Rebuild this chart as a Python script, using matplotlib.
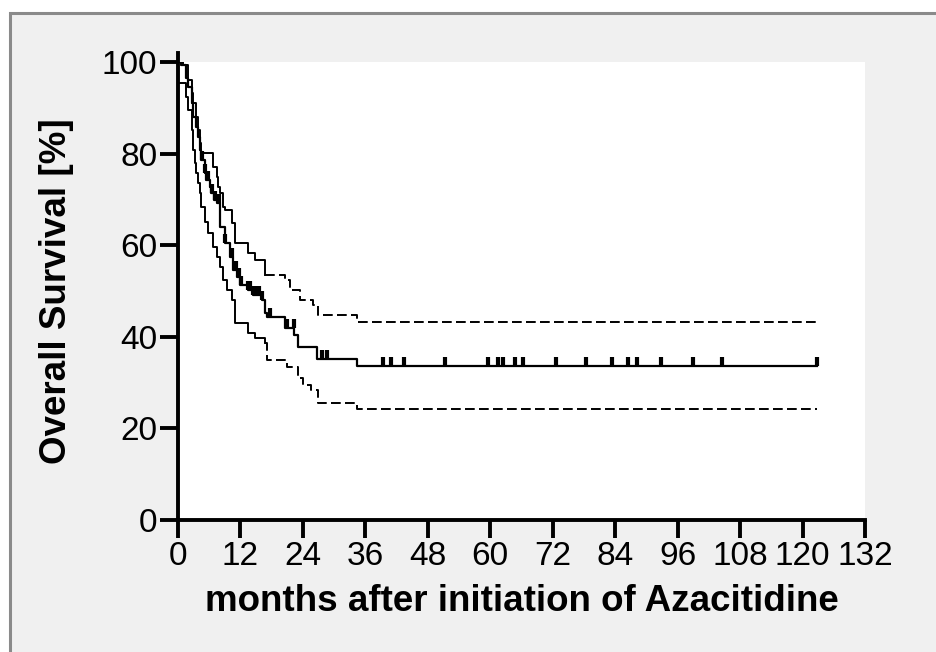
import numpy as np
import matplotlib

matplotlib.use("Agg")

import matplotlib.pyplot as plt
from matplotlib.patches import Rectangle

# Kaplan-Meier estimate (months, % surviving)
surv_months = [0, 0.6, 1.6, 1.9, 2.6, 2.9, 3.5, 3.8, 4.2, 4.5, 5.1, 5.4, 6.1, 6.4, 7.0, 7.4,
               8.0, 8.1, 9.0, 10.0, 10.6, 11.3, 11.9, 13.4, 14.4, 16.1, 16.7, 17.1,
               20.6, 22.3, 23.1, 26.7, 34.4, 122.8]
surv_pct = [100, 99.3, 96.5, 94.5, 91.0, 88.0, 85.8, 83.6, 80.8, 78.6, 75.8, 74.2, 72.7, 71.4, 69.9, 69.2,
            68.1, 64.0, 60.5, 57.4, 54.6, 53.1, 51.3, 50.2, 49.1, 48.0, 45.2, 44.3,
            41.9, 40.5, 37.8, 35.2, 33.6, 33.6]

# 95% confidence band
upper_months = [0, 1.0, 1.9, 2.6, 2.9, 3.5, 3.8, 4.2, 4.5, 6.7, 7.4, 7.7, 8.1, 8.6, 9.0, 10.3,
                11.0, 13.4, 14.8, 16.7, 20.6, 21.5, 23.4, 25.9, 26.9, 34.4, 122.8]
upper_pct = [100, 99.3, 96.1, 93.2, 91.0, 88.0, 85.2, 82.3, 80.1, 77.1, 74.9, 72.7, 71.4, 68.3, 67.7, 64.8,
             60.5, 58.3, 56.8, 53.5, 52.5, 50.2, 48.0, 46.9, 44.8, 43.2, 43.2]

lower_months = [0, 1.5, 1.9, 2.6, 2.9, 3.2, 3.5, 3.8, 4.2, 4.5, 5.2, 5.8, 6.7, 7.4, 8.1, 8.7,
                9.4, 10.4, 11.0, 13.4, 14.8, 16.7, 17.1, 21.0, 23.1, 24.0, 25.5, 26.9, 34.4, 122.8]
lower_pct = [95.4, 92.4, 89.5, 85.2, 80.8, 77.9, 75.8, 73.6, 71.4, 68.3, 65.1, 62.7, 59.6, 57.4, 55.2, 52.4,
             50.2, 48.0, 43.0, 40.8, 39.7, 38.6, 34.9, 33.5, 31.0, 29.5, 28.4, 25.5, 24.2, 24.2]

censored_months = [4.6, 5.2, 5.8, 6.6, 7.2, 7.8, 9.0, 10.4, 11.2, 11.8, 12.2, 13.4, 13.9, 14.4,
                   15.0, 15.6, 16.2, 17.7, 21.0, 22.2, 27.7, 28.6, 39.4, 40.9, 43.4, 51.3, 59.6,
                   61.5, 62.4, 64.7, 66.3, 72.6, 78.4, 83.4, 86.5, 88.2, 92.8, 98.9, 104.5, 122.8]

x_ticks = list(range(0, 133, 12))
y_ticks = [0, 20, 40, 60, 80, 100]

DASH_FROM = 17.0  # dense early steps read as a solid line


def plot_band_line(ax, months, pct):
    months = np.array(months)
    pct = np.array(pct)
    split = np.searchsorted(months, DASH_FROM, side="right")
    ax.step(months[:split], pct[:split], where="post", color="black", linewidth=1.4)
    ax.step(months[split - 1:], pct[split - 1:], where="post", color="black",
            linewidth=1.4, linestyle=(0, (5, 2.2)))


plt.rcParams["font.family"] = ["Liberation Sans", "DejaVu Sans"]

fig = plt.figure(figsize=(9.36, 6.52), dpi=100, facecolor="white")
fig.patches.append(
    Rectangle((10 / 936, -0.1), 1.2, 1.1 - 13 / 652, transform=fig.transFigure,
              facecolor="#f0f0f0", edgecolor="#8a8a8a", linewidth=2.2, zorder=-10)
)

ax = fig.add_axes([178 / 936, 1 - 520 / 652, 687 / 936, 458 / 652])
ax.set_facecolor("white")

ax.step(surv_months, surv_pct, where="post", color="black", linewidth=1.6)
plot_band_line(ax, upper_months, upper_pct)
plot_band_line(ax, lower_months, lower_pct)

# censor ticks sit on the survival curve
idx = np.searchsorted(surv_months, censored_months, side="right") - 1
censor_level = np.array(surv_pct)[idx]
ax.vlines(censored_months, censor_level, censor_level + 2.0, color="black", linewidth=3.0)

ax.set_xlim(0, 132)
ax.set_ylim(0, 100)
ax.set_xticks(x_ticks)
ax.set_yticks(y_ticks)
ax.tick_params(axis="both", labelsize=24, length=13, width=2.8, pad=2)

for side in ["top", "right"]:
    ax.spines[side].set_visible(False)
for side in ["left", "bottom"]:
    ax.spines[side].set_linewidth(2.8)
ax.spines["left"].set_bounds(0, 102)

ax.set_xlabel("months after initiation of Azacitidine", fontsize=26.5, fontweight="bold", labelpad=9)
ax.set_ylabel("Overall Survival [%]", fontsize=26.5, fontweight="bold", labelpad=20)

plt.savefig("out.png", dpi=100, facecolor=fig.get_facecolor())
plt.close()
